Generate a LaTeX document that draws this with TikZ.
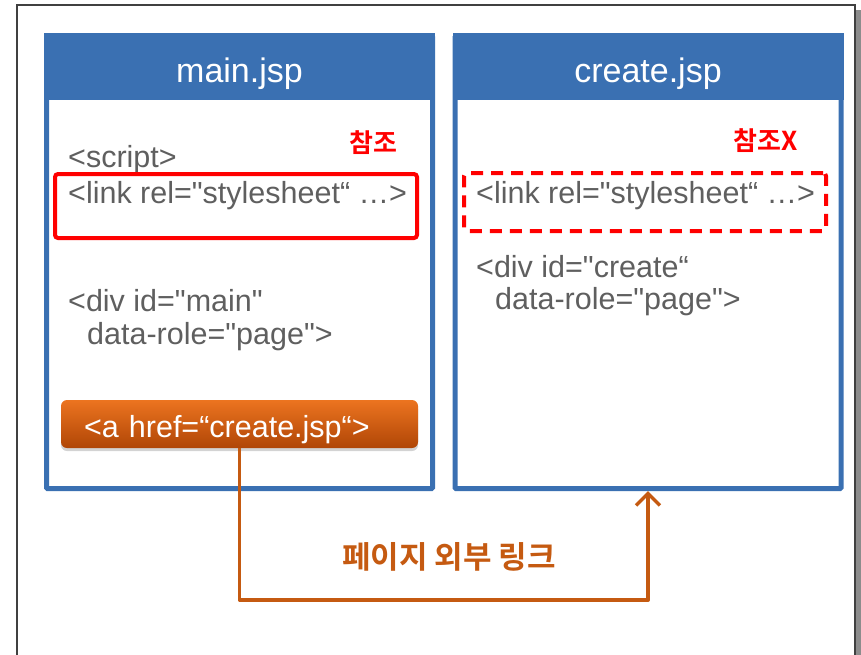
\documentclass[tikz,border=0pt]{standalone}
\usepackage{fontspec}
\setmainfont{Liberation Sans}[Ligatures=TeXOff]
\newfontfamily\krfont{Noto Sans CJK KR}[BoldFont={Noto Sans CJK KR Bold}]
\usetikzlibrary{arrows.meta,shadows}
\definecolor{pageblue}{HTML}{3A70B2}
\definecolor{codegray}{HTML}{5F5F5F}
\definecolor{linkorange}{HTML}{C55A11}
\definecolor{btntop}{HTML}{EC7420}
\definecolor{btnbot}{HTML}{B04606}
\tikzset{
	pagebox/.style={draw=pageblue, line width=5pt, minimum width=386pt, minimum height=452pt, rounded corners=1pt},
	pagehead/.style={fill=pageblue, minimum width=391pt, minimum height=67pt, text height=31pt, text depth=0pt, text=white, font=\fontsize{34}{34}\selectfont},
	code/.style={anchor=west, text=codegray, inner sep=0pt, font=\fontsize{30.5}{30}\selectfont},
	refnote/.style={text=red, inner sep=0pt, font=\krfont\bfseries\fontsize{26}{26}\selectfont},
	refbox/.style={draw=red, line width=4pt, rounded corners=3pt, minimum height=64pt},
}
\begin{document}
\begin{tikzpicture}[x=1pt, y=-1pt]
		\path[use as bounding box, clip] (0,0) rectangle (861,654);
		%outer frame
		\fill[gray!90] (855,10) rectangle (861,700);
		\draw[line width=2pt, black!75] (17,5) rectangle (855,700);
		
		%pages
		\node[pagebox] (mainbox) at (239.5,262.5){};
		\node[pagebox] (createbox) at (648,262.5){};
		\node[pagehead] (mainhead) at (239.5,66.5){main.jsp};
		\node[pagehead] (createhead) at (648,66.5){create.jsp};
		
		%main.jsp
		\node[code] (script) at (68,160){<script>};
		\node[code] (mainlink) at (68,196){<link rel="stylesheet“ …>};
		\node[refbox, minimum width=362pt] (mainref) at (236,206){};
		\node[refnote] (mainnote) at (373,143){참조};
		\node[code] (maindiv) at (68,301){<div id="main"};
		\node[code] (mainrole) at (87,337){data-role="page">};
		\node[text=white, align=left, text width=311pt, inner xsep=23pt, minimum height=48pt,
			text height=26pt, text depth=0pt,
			rounded corners=6pt, top color=btntop, bottom color=btnbot,
			drop shadow={shadow xshift=0pt, shadow yshift=-3pt, opacity=0.35},
			font=\fontsize{30.5}{30}\selectfont] (ahref) at (239.5,424){<a href=“create.jsp“>};
		
		%create.jsp
		\node[refbox, dashed, dash pattern=on 12pt off 8pt, minimum width=362pt, minimum height=58pt] (createref) at (645,202){};
		\node[code] (createlink) at (476,196){<link rel="stylesheet“ …>};
		\node[refnote] (createnote) at (766,141){참조X};
		\node[code] (creatediv) at (476,267){<div id="create“};
		\node[code] (createrole) at (495,302){data-role="page">};
		
		%link
		\draw[linkorange, line width=3.5pt, line join=round, -{Straight Barb[length=12pt, width=24pt]}]
			(ahref.south) -- ++(0,152) -| (createbox.south);
		\node[text=linkorange, font=\krfont\bfseries\fontsize{31}{31}\selectfont] (linklabel) at (449,557){페이지 외부 링크};
\end{tikzpicture}
\end{document}
